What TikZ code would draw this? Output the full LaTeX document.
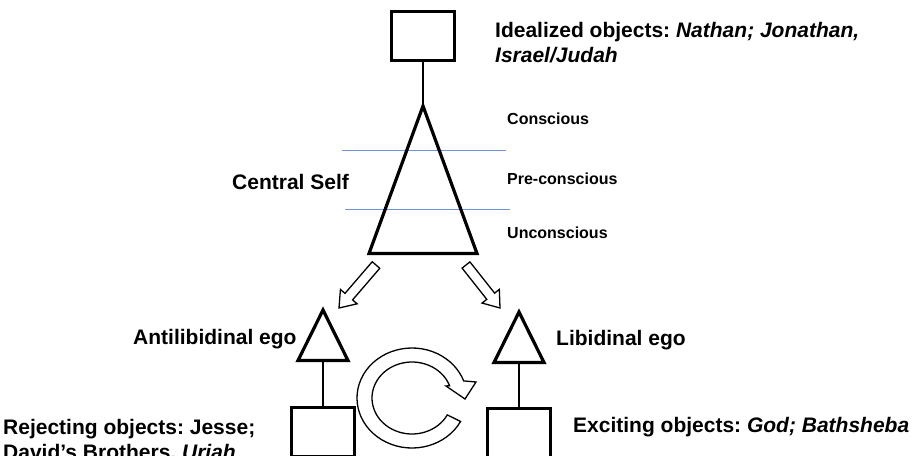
\documentclass[tikz,border=0pt]{standalone}
\usepackage{fontspec}
\setmainfont{Liberation Sans}
\usetikzlibrary{calc}
\definecolor{layerblue}{RGB}{110,150,215}
\tikzset{
 objbox/.style={draw, line width=3pt, minimum width=63pt, minimum height=49pt, inner sep=0pt},
 egotri/.style={draw, line width=3.2pt, line join=miter},
 link/.style={draw, line width=1.8pt},
 layer/.style={draw=layerblue, line width=0.9pt},
 biglabel/.style={font=\fontsize{21}{25}\selectfont\bfseries\frenchspacing, inner sep=0pt, anchor=base west, align=left},
 smalllabel/.style={font=\fontsize{16}{19}\selectfont\bfseries, inner sep=0pt, anchor=base west},
 hollow/.style={draw, line width=1.3pt, fill=white, line join=miter},
}
\newcommand\hollowarrow[2]{%
 \coordinate (hb) at ($(#2)!15pt!(#1)$);
 \draw[hollow] ($(#1)!5pt!90:(#2)$) -- ($(hb)!5pt!90:(#2)$) -- ($(hb)!11pt!90:(#2)$) -- (#2) -- ($(hb)!11pt!-90:(#2)$) -- ($(hb)!5pt!-90:(#2)$) -- ($(#1)!5pt!-90:(#2)$) -- cycle;}
\begin{document}
\begin{tikzpicture}[x=1pt,y=-1pt]
\useasboundingbox (0,0) rectangle (915,455);
\clip (0,0) rectangle (915,455);
% layer lines
\draw[layer] (342,150) -- (506,150);
\draw[layer] (345,209) -- (510,209);
% central self
\coordinate (cs) at (423,106);
\draw[egotri] (cs) -- (477,253.5) -- (369,253.5) -- cycle;
\node[objbox] (ideal) at (423,36) {};
\draw[link] (ideal.south) -- (cs);
% antilibidinal ego
\coordinate (anti) at (323,310);
\draw[egotri] (anti) -- (348,360.5) -- (298,360.5) -- cycle;
\coordinate (antibase) at (323,360.5);
\node[objbox] (rej) at (323,432) {};
\draw[link] (antibase) -- (rej.north);
% libidinal ego
\coordinate (lib) at (519,312);
\draw[egotri] (lib) -- (544,362.5) -- (494,362.5) -- cycle;
\coordinate (libbase) at (519,362.5);
\node[objbox] (exc) at (519,433) {};
\draw[link] (libbase) -- (exc.north);
% hollow arrows
\coordinate (aLt) at (376,265); \coordinate (aLp) at (339,308);
\hollowarrow{aLt}{aLp}
\coordinate (aRt) at (466,265); \coordinate (aRp) at (500,308);
\hollowarrow{aRt}{aRp}
% circular arrow
\coordinate (cc) at (412,398);
\draw[hollow] (cc) ++(28:55 and 50) arc[start angle=28, end angle=340, x radius=55, y radius=50]
  -- (476,382) -- (465,399) -- (446,386) -- ($(cc)+(340:40 and 36)$)
  arc[start angle=340, end angle=28, x radius=40, y radius=36] -- cycle;
% labels
\node[biglabel] (idealtxt) at (495,62) {Idealized objects: \textit{Nathan; Jonathan,}\\\textit{Israel/Judah}};
\node[smalllabel] (consc) at (507,124) {Conscious};
\node[smalllabel] (pre) at (507,184) {Pre-conscious};
\node[smalllabel] (uncon) at (507,238) {Unconscious};
\node[biglabel] (cstxt) at (232,189) {Central Self};
\node[biglabel] (antitxt) at (133,344) {Antilibidinal ego};
\node[biglabel] (libtxt) at (556,345) {Libidinal ego};
\node[biglabel] (exctxt) at (573,432) {Exciting objects: \textit{God; Bathsheba}};
\node[biglabel] (rejtxt) at (3,459) {Rejecting objects: Jesse;\\David’s Brothers, \textit{Uriah}};
\end{tikzpicture}
\end{document}
